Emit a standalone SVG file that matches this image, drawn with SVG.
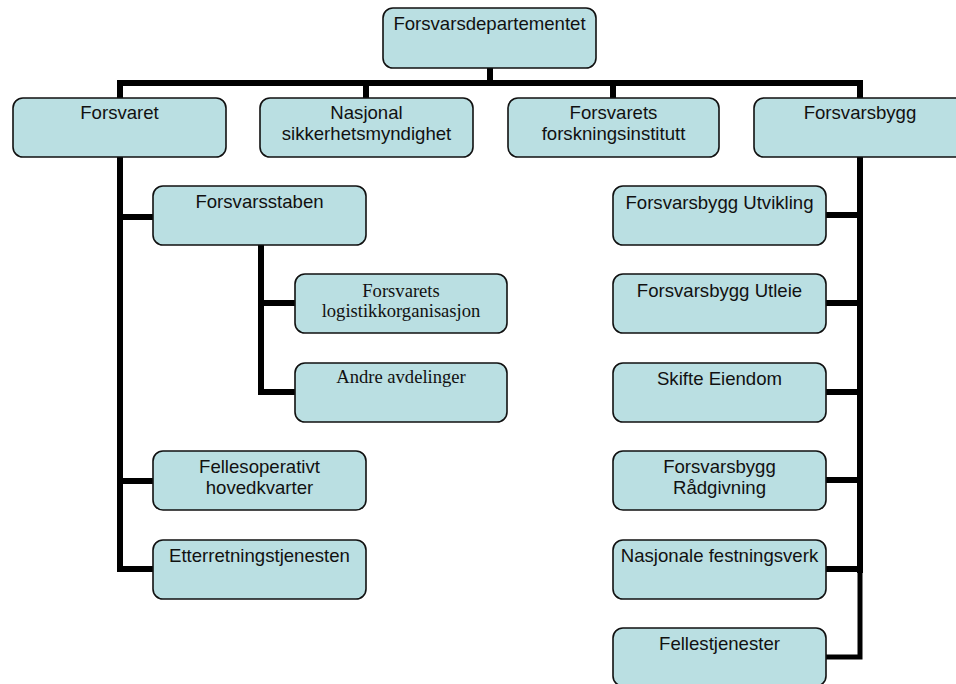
<svg xmlns="http://www.w3.org/2000/svg" width="956" height="684" viewBox="0 0 956 684">
<style>
.box{fill:#badfe2;stroke:#111;stroke-width:1.6}
.t{font-family:"Liberation Sans",Arial,sans-serif;font-size:18.6px;fill:#111;text-anchor:middle}
.s{font-family:"Liberation Serif","Times New Roman",serif;font-size:18.6px;fill:#111;text-anchor:middle}
.c{fill:none;stroke:#000;stroke-width:6;stroke-linejoin:miter;stroke-linecap:square}
</style>
<rect width="956" height="684" fill="#fff"/>
<g id="connectors">
<path class="c" d="M490,68 V83 M120,98 V83 H860 V98 M366,83 V98 M613,83 V98"/>
<path class="c" d="M120,157 V569 H153 M120,217 H153 M120,481 H153"/>
<path class="c" d="M261,245 V392 H295 M261,303 H295"/>
<path class="c" d="M860,157 V570 M826,215 H860 M826,303 H860 M826,392 H860 M826,480 H860 M826,569 H860"/>
<path class="c" style="stroke-width:5" d="M860,570 V657 H826"/>
</g>
<g id="n-forsvarsdepartementet"><rect class="box" x="383" y="8" width="213" height="60" rx="10"/><text class="t" x="489.5" y="30">Forsvarsdepartementet</text></g>
<g id="n-forsvaret"><rect class="box" x="13" y="98" width="213" height="59" rx="10"/><text class="t" x="119.5" y="119">Forsvaret</text></g>
<g id="n-nsm"><rect class="box" x="260" y="98" width="213" height="59" rx="10"/><text class="t" x="366.5" y="119">Nasjonal</text><text class="t" x="366.5" y="140">sikkerhetsmyndighet</text></g>
<g id="n-ffi"><rect class="box" x="508" y="98" width="211" height="59" rx="10"/><text class="t" x="613.5" y="119">Forsvarets</text><text class="t" x="613.5" y="140">forskningsinstitutt</text></g>
<g id="n-forsvarsbygg"><rect class="box" x="754" y="98" width="213" height="59" rx="10"/><text class="t" x="860" y="119">Forsvarsbygg</text></g>
<g id="n-forsvarsstaben"><rect class="box" x="153" y="186" width="213" height="59" rx="10"/><text class="t" x="259.5" y="208">Forsvarsstaben</text></g>
<g id="n-flo"><rect class="box" x="295" y="274" width="212" height="59" rx="10"/><text class="s" x="401" y="297">Forsvarets</text><text class="s" x="401" y="317">logistikkorganisasjon</text></g>
<g id="n-andre"><rect class="box" x="295" y="363" width="212" height="59" rx="10"/><text class="s" x="401" y="383">Andre avdelinger</text></g>
<g id="n-foh"><rect class="box" x="153" y="451" width="213" height="59" rx="10"/><text class="t" x="259.5" y="473">Fellesoperativt</text><text class="t" x="259.5" y="494">hovedkvarter</text></g>
<g id="n-etj"><rect class="box" x="153" y="540" width="213" height="59" rx="10"/><text class="t" x="259.5" y="562">Etterretningstjenesten</text></g>
<g id="n-utvikling"><rect class="box" x="613" y="186" width="213" height="59" rx="10"/><text class="t" x="719.5" y="209">Forsvarsbygg Utvikling</text></g>
<g id="n-utleie"><rect class="box" x="613" y="274" width="213" height="59" rx="10"/><text class="t" x="719.5" y="297">Forsvarsbygg Utleie</text></g>
<g id="n-skifte"><rect class="box" x="613" y="363" width="213" height="59" rx="10"/><text class="t" x="719.5" y="385">Skifte Eiendom</text></g>
<g id="n-radgivning"><rect class="box" x="613" y="451" width="213" height="59" rx="10"/><text class="t" x="719.5" y="473">Forsvarsbygg</text><text class="t" x="719.5" y="494">Rådgivning</text></g>
<g id="n-festning"><rect class="box" x="613" y="540" width="213" height="59" rx="10"/><text class="t" x="719.5" y="562">Nasjonale festningsverk</text></g>
<g id="n-fellestjenester"><rect class="box" x="613" y="628" width="213" height="58" rx="10"/><text class="t" x="719.5" y="650">Fellestjenester</text></g>
</svg>
